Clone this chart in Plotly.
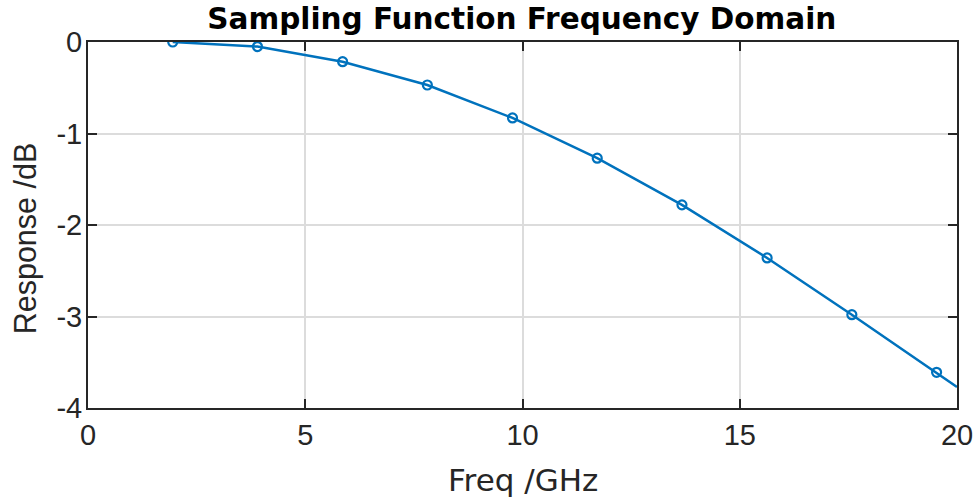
import plotly.graph_objects as go

freq_markers = [1.95, 3.9, 5.86, 7.81, 9.77, 11.72, 13.67, 15.63, 17.58, 19.53]
resp_markers = [0.0, -0.05, -0.215, -0.47, -0.83, -1.27, -1.78, -2.36, -2.98, -3.61]
freq_end = [20.0]
resp_end = [-3.77]

x_ticks = [0, 5, 10, 15, 20]
y_ticks = [0, -1, -2, -3, -4]

blue = "#0072BD"
axc = "#262626"
font = "Liberation Sans, Arial, Helvetica, sans-serif"
wide = "DejaVu Sans, Liberation Sans, sans-serif"

fig = go.Figure()
fig.add_trace(go.Scatter(
    x=freq_markers + freq_end, y=resp_markers + resp_end,
    mode="lines", line=dict(color=blue, width=2.5), showlegend=False,
    hoverinfo="skip"))
fig.add_trace(go.Scatter(
    x=freq_markers, y=resp_markers, mode="markers",
    marker=dict(symbol="circle-open", size=9, color=blue, line=dict(width=2.2, color=blue)),
    showlegend=False))

fig.update_layout(
    width=979, height=503,
    margin=dict(l=88, r=22, t=42, b=95, autoexpand=False),
    paper_bgcolor="white", plot_bgcolor="white",
    font=dict(family=font, size=28, color=axc),
    title=dict(text="<b>Sampling Function Frequency Domain</b>",
               x=0.533, xref="container", xanchor="center",
               y=0.963, yref="container", yanchor="middle",
               font=dict(family=wide, size=29.5, color="black")),
    annotations=[
        dict(text="Freq /GHz", xref="paper", yref="paper", x=0.5, y=-0.197,
             xanchor="center", yanchor="middle", showarrow=False,
             font=dict(family=wide, size=31, color=axc)),
        dict(text="Response /dB", xref="paper", yref="paper", x=-0.071, y=0.4645,
             xanchor="center", yanchor="middle", showarrow=False, textangle=-90,
             font=dict(family=font, size=30.5, color=axc)),
    ],
)
fig.update_xaxes(
    range=[0, 20], tickvals=x_ticks, ticktext=[str(v) for v in x_ticks],
    showgrid=True, gridcolor="#dcdcdc", gridwidth=1.5,
    showline=True, linecolor=axc, linewidth=2, mirror="ticks",
    ticks="inside", ticklen=9, tickwidth=2, tickcolor=axc,
    zeroline=False, tickfont=dict(size=29, color=axc), automargin=False,
)
fig.update_yaxes(
    range=[-4, 0], tickvals=y_ticks, ticktext=[str(v) for v in y_ticks],
    showgrid=True, gridcolor="#dcdcdc", gridwidth=1.5,
    showline=True, linecolor=axc, linewidth=2, mirror="ticks",
    ticks="inside", ticklen=9, tickwidth=2, tickcolor=axc,
    zeroline=False, tickfont=dict(size=29, color=axc), automargin=False,
    ticklabelstandoff=-2,
)

fig.write_html("out.html")
